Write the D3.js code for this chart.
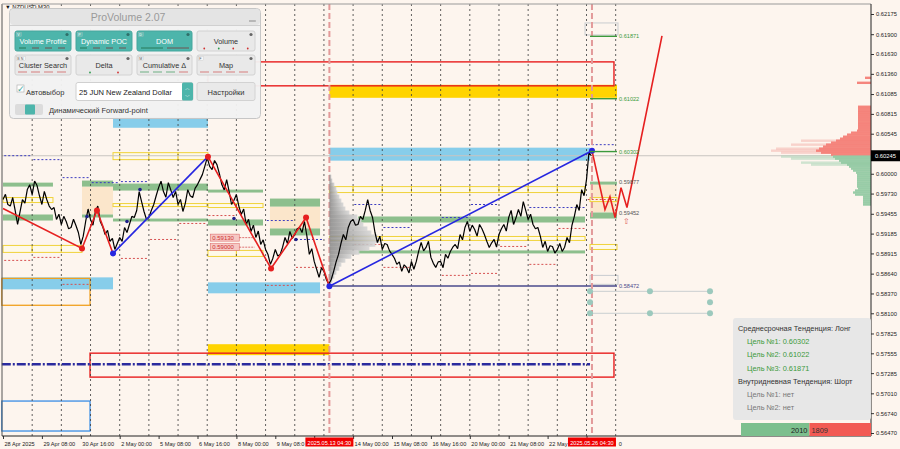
<!DOCTYPE html>
<html><head><meta charset="utf-8">
<script src="https://cdn.jsdelivr.net/npm/d3@7"></script>
<style>
html,body{margin:0;padding:0;background:#fdf5ee;overflow:hidden;}
svg{display:block;font-family:"Liberation Sans",Arial,sans-serif;}
</style></head><body>
<svg id="c" width="900" height="449"></svg>
<script>
// ---------------- DATA ----------------
const symbolLabel = "NZDUSD,M30";
const xLabels = ["28 Apr 2025","29 Apr 08:00","30 Apr 16:00","2 May 00:00","5 May 08:00","6 May 16:00","8 May 00:00","9 May 08:00","12 May 16:00","14 May 00:00","15 May 08:00","16 May 16:00","20 May 00:00","21 May 08:00","22 May 16:00","26 May 00:00"];
const xLabelHours = [0,32,64,96,128,160,192,224,256,288,320,352,384,416,448,480];
const yTicks = [0.62175,0.61900,0.61630,0.61360,0.61085,0.60815,0.60545,0.60000,0.59730,0.59455,0.59185,0.58915,0.58640,0.58370,0.58100,0.57825,0.57555,0.57285,0.57010,0.56740,0.56470];
const currentPrice = 0.60245;
const markerTimes = [[268.5,"2025.05.13 04:30"],[484.5,"2025.05.26 04:30"]];

// close prices every 2 trading hours from 28 Apr 00:00
const closeStepHours = 2;
const closes = [
0.59649,0.59720,0.59581,0.59560,0.59676,0.59500,0.59309,0.59480,0.59649,0.59600,
0.59784,0.59850,0.59716,0.59900,0.59839,0.59700,0.59581,0.59760,0.59649,0.59560,
0.59513,0.59540,0.59377,0.59450,0.59309,0.59420,0.59350,0.59250,0.59268,0.59380,
0.59295,0.59200,0.59037,0.59150,0.59350,0.59520,0.59377,0.59300,0.59486,0.59560,
0.59350,0.59280,0.59173,0.59230,0.59078,0.59120,0.58969,0.59050,0.59132,0.59080,
0.59268,0.59200,0.59309,0.59420,0.59404,0.59500,0.59757,0.59620,0.59486,0.59380,
0.59404,0.59500,0.59581,0.59700,0.59811,0.59900,0.59757,0.59680,0.59879,0.59780,
0.59676,0.59760,0.59581,0.59650,0.59486,0.59600,0.59784,0.59700,0.59676,0.59800,
0.59852,0.59920,0.59988,0.60100,0.60219,0.60100,0.60056,0.60180,0.60124,0.60000,
0.59852,0.59780,0.59920,0.59760,0.59581,0.59640,0.59716,0.59560,0.59445,0.59520,
0.59309,0.59380,0.59214,0.59300,0.59132,0.59220,0.59037,0.59100,0.58969,0.58900,
0.58766,0.58850,0.58969,0.58880,0.58902,0.59000,0.59132,0.59050,0.59214,0.59120,
0.59173,0.59250,0.59268,0.59200,0.59350,0.59150,0.58902,0.58980,0.58806,0.58700,
0.58589,0.58720,0.58671,0.58560,0.58494,0.58560,0.58671,0.58800,0.58902,0.59050,
0.59173,0.59100,0.59268,0.59350,0.59377,0.59300,0.59309,0.59420,0.59377,0.59500,
0.59649,0.59500,0.59404,0.59200,0.59064,0.59150,0.58969,0.59050,0.59037,0.58950,
0.58902,0.58850,0.58766,0.58800,0.58671,0.58760,0.58725,0.58650,0.58806,0.58700,
0.58806,0.58950,0.59064,0.58950,0.58997,0.59080,0.58861,0.58780,0.58725,0.58800,
0.58806,0.58720,0.58902,0.58850,0.58942,0.59000,0.59037,0.58980,0.59173,0.59100,
0.59268,0.59350,0.59214,0.59300,0.59241,0.59150,0.59309,0.59250,0.59173,0.59080,
0.58997,0.59060,0.59105,0.59000,0.59173,0.59250,0.59309,0.59220,0.59404,0.59500,
0.59309,0.59400,0.59513,0.59420,0.59621,0.59500,0.59377,0.59450,0.59309,0.59250,
0.59268,0.59150,0.58997,0.59080,0.58942,0.59020,0.59010,0.58920,0.58969,0.59050,
0.58942,0.59000,0.59132,0.59060,0.59295,0.59420,0.59581,0.59500,0.59784,0.59700,
0.59920,0.60290,0.60245];

const zigRed1 = [[0,0.59526],[65,0.58983],[77.3,0.59499],[90.5,0.58915]];
const zigBlue1 = [[90.5,0.58915],[168.6,0.60233]];
const zigRed2 = [[168.6,0.60233],[220.5,0.58711],[249.3,0.59404],[268.5,0.58467]];
const zigBlue2 = [[268.5,0.58467],[484.5,0.60314]];
const forecast = [[484.5,0.60314],[495.2,0.59513],[499.3,0.59689],[503.5,0.59404],[508.4,0.59811],[513.3,0.59540],[542.1,0.61876]];
const pivotsRed = [[65,0.58983],[77.3,0.59499],[168.6,0.60233],[220.5,0.58711],[249.3,0.59404]];
const pivotsBlue = [[90.5,0.58915],[268.5,0.58467],[484.5,0.60314]];
const fractals = [[69.1,0.59418],[102,0.59350],[112.7,0.59784],[190,0.59390],[241,0.59105]];

// zones: [startHour, endHour, topPrice, bottomPrice]
const greenZones = [[0,41.1,0.59879,0.59825],[0,41.1,0.59445,0.59363],[65,90.5,0.59907,0.59825],[65,90.5,0.59445,0.59404],
[90.5,168.6,0.59866,0.59771],[90.5,168.6,0.59390,0.59350],[168.6,213.9,0.59784,0.59744],[168.6,213.9,0.59377,0.59295],
[219.6,260.8,0.59662,0.59553],[219.6,260.8,0.59255,0.59160],[292,478.8,0.59418,0.59336],[292,478.8,0.58956,0.58915],
[482.9,505.1,0.59893,0.59852],[482.9,505.1,0.59472,0.59390]];
const beigeZones = [[65,90.5,0.59825,0.59445],[219.6,260.8,0.59553,0.59255],[482.9,505.1,0.59852,0.59472]];
const blueZones = [[90.5,168.6,0.60776,0.60626],[268.5,482.9,0.60355,0.60178],[-1,90.5,0.58589,0.58426],[168.6,260.8,0.58521,0.58372]];
const goldZones = [[268.5,505.1,0.61211,0.61034],[168.6,268.5,0.57679,0.57530]];
const redBoxes = [[168.6,502.6,0.61523,0.61197],[71.6,502.6,0.57557,0.57231]];
const orangeBoxes = [[-1,71.6,0.58575,0.58209]];
const blueBoxes = [[-1,71.6,0.56905,0.56497]];
const grayBoxes = [[478.8,505.9,0.62053,0.61890],[482.9,505.9,0.58616,0.58494]];
const yellowBands = [[90.5,168.6,0.60287,0.60192],[0,41.1,0.59676,0.59608],[0,65,0.59024,0.58929],[90.5,168.6,0.59594,0.59553],
[168.6,213.9,0.59594,0.59540],[168.6,213.9,0.58956,0.58874],[268.5,478.8,0.59825,0.59744],[268.5,478.8,0.59146,0.59092],
[482.9,505.1,0.59676,0.59621],[482.9,505.1,0.59037,0.58969]];
// [dayIndex, price]
const redDashDays = [[0,0.58820],[1,0.58861],[2,0.58494],[4,0.58847],[5,0.59105],[6,0.59323],[7,0.59431],[9,0.58480],[10,0.58725],[12,0.59037],[13,0.58725],[15,0.58616],[16,0.58643],[17,0.59010],[18,0.58766],[19,0.59255],[20,0.59649]];
const blueDashDays = [[0,0.60246],[1,0.60192],[2,0.59947],[3,0.59879],[4,0.59893],[9,0.59363],[10,0.59105],[12,0.59581],[13,0.59268],[15,0.59404],[16,0.59581],[18,0.59540],[19,0.59540],[20,0.60396]];
const dashDotLine = [[-1,482.9,0.57407]];
const lowLine = [268.5,505.1,0.58472];
const targets = [0.61871,0.61022,0.60302];
const levelLabels = [[0.59877,"0.59877"],[0.59452,"0.59452"]];
const redPriceTags = [[0.59130,"0.59130"],[0.59000,"0.59000"]];
const dots = [[482.9,0.58399],[482.9,0.58250],[482.9,0.58100],[532.2,0.58399],[581.6,0.58399],[581.6,0.58250],[532.2,0.58100],[581.6,0.58100]];
const dotLines = [[482.9,581.6,0.58399],[482.9,581.6,0.58100]];

// gray session volume profile at 13 May: [price, volume]
const grayProfile = [[0.59961,2],[0.59907,3],[0.59852,5],[0.59798,7],[0.59744,8],[0.59689,10],[0.59635,12],[0.59581,14],[0.59526,16],[0.59472,20],[0.59418,28],[0.59363,32],[0.59309,34],[0.59255,38],[0.59200,42],[0.59146,48],[0.59092,50],[0.59037,46],[0.58983,40],[0.58929,30],[0.58874,22],[0.58820,16],[0.58766,12],[0.58711,10],[0.58657,7],[0.58603,5],[0.58548,3]];
// right profile: [price, volume]
const redProfile = [[0.61306,6],[0.61238,14],[0.60912,13],[0.60885,13],[0.60857,13],[0.60830,13],[0.60803,13],[0.60776,13],[0.60749,13],[0.60722,13],[0.60694,13],[0.60667,13],[0.60640,13],[0.60613,13],[0.60586,14],[0.60559,20],[0.60532,24],[0.60504,28],[0.60477,31],[0.60450,35],[0.60423,40],[0.60396,45],[0.60369,48],[0.60341,52],[0.60314,55],[0.60287,50],[0.60260,40]];
const redProfileFaint = [[0.60450,70],[0.60396,80],[0.60341,95],[0.60314,100],[0.60287,90]];
const greenProfile = [[0.60233,38],[0.60206,36],[0.60178,32],[0.60151,30],[0.60124,24],[0.60097,22],[0.60070,20],[0.60043,18],[0.60015,15],[0.59988,14],[0.59961,14],[0.59934,14],[0.59907,14],[0.59879,14],[0.59852,14],[0.59825,14],[0.59798,13],[0.59771,16],[0.59744,18],[0.59716,16],[0.59689,8],[0.59662,8],[0.59635,8],[0.59608,8],[0.59581,8]];
const greenProfileFaint = [[0.60233,90],[0.60206,80],[0.60151,70],[0.60124,60]];

const buyVolume = 2010, sellVolume = 1809;
const infoLines = [
 ["Среднесрочная Тенденция: Лонг","#333",0],
 ["Цель №1: 0.60302","#3c9a3c",1],
 ["Цель №2: 0.61022","#3c9a3c",1],
 ["Цель №3: 0.61871","#3c9a3c",1],
 ["Внутридневная Тенденция: Шорт","#333",0],
 ["Цель №1: нет","#777",1],
 ["Цель №2: нет","#777",1]];
const panelButtons = [
 ["Volume Profile","V",true],["Dynamic POC","P",true],["DOM","D",true],["Volume","",false],
 ["Cluster Search","B N",false],["Delta","",false],["Cumulative Δ","M",false],["Map","F",false]];

// ---------------- DRAW ----------------
const svg = d3.select("#c");
const W=900,H=449, L=2, R=871, T=4, B=436;
const x = d3.scaleLinear().domain([0,480]).range([3,586.5]);
const y = d3.scaleLinear().domain([0.56470,0.62175]).range([433,14]);

svg.append("rect").attr("width",W).attr("height",H).attr("fill","#fdf5ee");
const g = svg.append("g");

function rects(data, fill, stroke, sw, op){
  g.selectAll(null).data(data).join("rect")
   .attr("x",d=>x(d[0])).attr("width",d=>x(d[1])-x(d[0]))
   .attr("y",d=>y(d[2])).attr("height",d=>Math.max(1,y(d[3])-y(d[2])))
   .attr("fill",fill).attr("fill-opacity",op==null?1:op)
   .attr("stroke",stroke||"none").attr("stroke-width",sw||1);
}

rects(blueZones,"#87cdea");
rects(goldZones,"#ffd400");
rects(beigeZones,"#fbe6cb");
rects(greenZones,"#8dbf8d");
yellowBands.forEach(b=>{
  const cuts=[b[0]].concat(d3.range(Math.ceil(b[0]/24)*24,b[1],24).filter(c=>c>b[0]+2&&c<b[1]-2)).concat([b[1]]);
  const segs=d3.pairs(cuts).map(p=>[p[0],p[1],b[2],b[3]]);
  rects(segs,"#fffbe6","#f0d23a",1,0.6);
});
rects(redBoxes,"none","#e81e1e",1.4);
rects(orangeBoxes,"none","#f0a020",1.3);
rects(blueBoxes,"none","#3a8ee6",1.3);
rects(grayBoxes,"none","#c8ccd0",1);

// grid (daily separators)
g.selectAll(null).data(d3.range(24,505,24)).join("line")
 .attr("x1",d=>x(d)).attr("x2",d=>x(d)).attr("y1",T).attr("y2",B)
 .attr("stroke","#3a3a3a").attr("stroke-dasharray","2,3").attr("stroke-width",0.8);

g.append("line").attr("x1",L).attr("x2",R).attr("y1",y(currentPrice)).attr("y2",y(currentPrice))
 .attr("stroke","#c9c4c0").attr("stroke-width",1);

g.selectAll(null).data(redDashDays).join("line")
 .attr("x1",d=>x(d[0]*24+1)).attr("x2",d=>x(d[0]*24+23)).attr("y1",d=>y(d[1])).attr("y2",d=>y(d[1]))
 .attr("stroke","#d65050").attr("stroke-dasharray","2,2").attr("stroke-width",1);
g.selectAll(null).data(blueDashDays).join("line")
 .attr("x1",d=>x(d[0]*24+1)).attr("x2",d=>x(d[0]*24+23)).attr("y1",d=>y(d[1])).attr("y2",d=>y(d[1]))
 .attr("stroke","#3c3cc0").attr("stroke-dasharray","2,2").attr("stroke-width",1);

g.selectAll(null).data(dashDotLine).join("line")
 .attr("x1",d=>x(d[0])).attr("x2",d=>x(d[1])).attr("y1",d=>y(d[2])).attr("y2",d=>y(d[2]))
 .attr("stroke","#2a2a9e").attr("stroke-width",2.4).attr("stroke-dasharray","9,2,2,2");

g.append("line").attr("x1",x(lowLine[0])).attr("x2",x(lowLine[1])).attr("y1",y(lowLine[2])).attr("y2",y(lowLine[2]))
 .attr("stroke","#4a4a8c").attr("stroke-width",1.4);

g.selectAll(null).data(markerTimes).join("line")
 .attr("x1",d=>x(d[0])).attr("x2",d=>x(d[0])).attr("y1",T).attr("y2",B)
 .attr("stroke","#e39a9a").attr("stroke-width",2).attr("stroke-dasharray","6,3");

// gray session profile
const vpx = d3.scaleLinear().domain([0,50]).range([0,50]);
const gradG = svg.append("defs").append("linearGradient").attr("id","gp");
gradG.append("stop").attr("offset","0%").attr("stop-color","#8c8c8c");
gradG.append("stop").attr("offset","100%").attr("stop-color","#d6d6d6");
const step = Math.abs(y(grayProfile[1][0])-y(grayProfile[0][0]));
g.selectAll(null).data(grayProfile).join("rect")
 .attr("x",x(268.5)).attr("width",d=>vpx(d[1])).attr("y",d=>y(d[0])-step/2).attr("height",step+0.3)
 .attr("fill","url(#gp)").attr("opacity",0.9);

g.selectAll(null).data(dotLines).join("line")
 .attr("x1",d=>x(d[0])).attr("x2",d=>x(d[1])).attr("y1",d=>y(d[2])).attr("y2",d=>y(d[2]))
 .attr("stroke","#c9cfd0").attr("stroke-width",1);
g.selectAll(null).data(dots).join("circle")
 .attr("cx",d=>x(d[0])).attr("cy",d=>y(d[1])).attr("r",3).attr("fill","#9cc9bd");

// price line
const line = d3.line().x(d=>x(d[0])).y(d=>y(d[1]));
g.append("path").attr("d",line(closes.map((c,i)=>[i*closeStepHours,c])))
 .attr("fill","none").attr("stroke","#000").attr("stroke-width",1.2).attr("stroke-linejoin","bevel");

[[zigRed1,"#e62020"],[zigBlue1,"#2626e0"],[zigRed2,"#e62020"],[zigBlue2,"#2626e0"],[forecast,"#e62020"]].forEach(([d,c])=>{
  g.append("path").attr("d",line(d)).attr("fill","none").attr("stroke",c).attr("stroke-width",1.6);
});
g.selectAll(null).data(pivotsRed).join("circle").attr("cx",d=>x(d[0])).attr("cy",d=>y(d[1])).attr("r",3).attr("fill","#e62020");
g.selectAll(null).data(pivotsBlue).join("circle").attr("cx",d=>x(d[0])).attr("cy",d=>y(d[1])).attr("r",3).attr("fill","#2626e0");
g.selectAll(null).data(fractals).join("circle").attr("cx",d=>x(d[0])).attr("cy",d=>y(d[1])).attr("r",1.8).attr("fill","#20208a");

g.selectAll(null).data(targets).join("line")
 .attr("x1",x(482.9)).attr("x2",x(505.1)).attr("y1",d=>y(d)).attr("y2",d=>y(d))
 .attr("stroke","#3c9a3c").attr("stroke-width",1.4);
g.selectAll(null).data(targets).join("text")
 .attr("x",x(505.1)+2).attr("y",d=>y(d)+2).attr("font-size",5.6).attr("fill","#3c9a3c")
 .text(d=>d3.format(".5f")(d));
g.selectAll(null).data(levelLabels).join("text")
 .attr("x",x(505.1)+2).attr("y",d=>y(d[0])+1.5).attr("font-size",5.6).attr("fill","#555").text(d=>d[1]);
g.append("text").attr("x",x(505.1)+2).attr("y",y(lowLine[2])+2).attr("font-size",5.6).attr("fill","#4a4a8c").text(d3.format(".5f")(lowLine[2]));
g.append("text").attr("x",x(512.5)).attr("y",y(0.59452)+10).attr("text-anchor","middle").attr("font-size",8).attr("fill","#e06060").text("⇧");

redPriceTags.forEach(([p,t])=>{
  g.append("rect").attr("x",x(170.5)).attr("y",y(p)-3.5).attr("width",29).attr("height",7)
   .attr("fill","#f6c8c4").attr("stroke","#e07070").attr("stroke-width",0.6);
  g.append("text").attr("x",x(170.5)+2).attr("y",y(p)+2.2).attr("font-size",6).attr("fill","#d03030").text(t);
  g.append("line").attr("x1",x(170.5)+29).attr("x2",x(207)).attr("y1",y(p)).attr("y2",y(p))
   .attr("stroke","#d65050").attr("stroke-width",0.8).attr("stroke-dasharray","2,1");
});

// right profile
const pw = d3.scaleLinear().domain([0,100]).range([0,100]);
function prof(data,color,op){
  g.selectAll(null).data(data).join("rect")
   .attr("x",d=>R-pw(d[1])).attr("width",d=>pw(d[1])).attr("y",d=>y(d[0])-1.2).attr("height",2.4)
   .attr("fill",color).attr("opacity",op);
}
prof(redProfileFaint,"#f4b4ae",0.55);
prof(greenProfileFaint,"#a9d4b6",0.55);
prof(redProfile,"#f47e76",0.95);
prof(greenProfile,"#92c9a2",0.95);

g.append("line").attr("x1",L).attr("x2",L).attr("y1",T).attr("y2",B).attr("stroke","#555").attr("stroke-width",1);
g.append("line").attr("x1",L).attr("x2",R).attr("y1",T).attr("y2",T).attr("stroke","#999").attr("stroke-width",1);

// axes
const ya = svg.append("g").attr("transform",`translate(${R},0)`)
 .call(d3.axisRight(y).tickValues(yTicks).tickSize(3).tickFormat(d3.format(".5f")));
ya.select(".domain").remove();
ya.selectAll("text").attr("font-size",5.8).attr("fill","#222").attr("x",5).attr("font-family","Liberation Sans, Arial");
ya.selectAll("line").attr("stroke","#333");
svg.append("line").attr("x1",R).attr("x2",R).attr("y1",T).attr("y2",B).attr("stroke","#222");

// time axis; labels partly hidden behind the red marker boxes are trimmed to their visible part
const boxes = markerTimes.map(([h])=>[x(h)-24,x(h)+24]);
const xa = svg.append("g").attr("transform",`translate(0,${B})`)
 .call(d3.axisBottom(x).tickValues(xLabelHours).tickSize(3).tickFormat((d,i)=>xLabels[i]));
xa.select(".domain").remove();
xa.selectAll("line").attr("stroke","#333");
xa.selectAll("text").attr("font-size",5.6).attr("fill","#222").attr("text-anchor","start").attr("dx",1).attr("y",6)
 .attr("font-family","Liberation Sans, Arial")
 .each(function(d){
   const t=d3.select(this), full=t.text(), x0=x(d)+1;
   const wFull=this.getComputedTextLength();
   for(const [b0,b1] of boxes){
     if(x0<b1 && x0+wFull>b0){
       if(x0<b0){
         let s=full; while(s.length && x0+this.getSubStringLength(0,s.length)>b0-1){ s=s.slice(0,-1); }
         s=s.replace(/\s+$/,""); t.text(s);
       } else {
         let k=0; while(k<full.length && x0+this.getSubStringLength(0,k)<b1+1){k++;}
         const tail=full.slice(k).replace(/^\s+/,"");
         if(tail){ const wt=this.getSubStringLength(full.length-tail.length,tail.length);
           t.text(tail).attr("dx",1+wFull-wt); } else t.remove();
       }
       break;
     }
   }
 });
svg.append("line").attr("x1",L).attr("x2",R).attr("y1",B).attr("y2",B).attr("stroke","#222");

markerTimes.forEach(([h,t])=>{
  svg.append("rect").attr("x",x(h)-24).attr("y",B+1.5).attr("width",48).attr("height",9).attr("fill","#f00000");
  svg.append("text").attr("x",x(h)).attr("y",B+8.5).attr("text-anchor","middle").attr("font-size",5.6).attr("fill","#fff").text(t);
});
svg.append("rect").attr("x",R).attr("y",y(currentPrice)-5.5).attr("width",29).attr("height",11).attr("fill","#000");
svg.append("text").attr("x",R+4).attr("y",y(currentPrice)+2).attr("font-size",5.8).attr("fill","#fff").text(d3.format(".5f")(currentPrice));

svg.append("text").attr("x",5).attr("y",9).attr("font-size",5.8).attr("fill","#111").text("▼ "+symbolLabel);

// ---------------- PANEL ----------------
const P = svg.append("g");
P.append("rect").attr("x",9.5).attr("y",8.5).attr("width",251).attr("height",110).attr("rx",4)
 .attr("fill","#f1f1f1").attr("fill-opacity",0.96).attr("stroke","#c6c6c6");
P.append("rect").attr("x",10).attr("y",9).attr("width",250).attr("height",16).attr("rx",4).attr("fill","#e4e4e4");
P.append("line").attr("x1",10).attr("x2",260).attr("y1",25.5).attr("y2",25.5).attr("stroke","#d0d0d0");
P.append("text").attr("x",128).attr("y",21).attr("text-anchor","middle").attr("font-size",10.5).attr("fill","#9a9a9a").text("ProVolume 2.07");
P.append("line").attr("x1",249).attr("x2",256).attr("y1",21).attr("y2",21).attr("stroke","#999").attr("stroke-width",1.2);
const bx=[15,76,137,197], bw=[56,56,55,58];
panelButtons.forEach((b,i)=>{
  const col=i%4,row=Math.floor(i/4);
  const X=bx[col],Y=row?55:31,w=bw[col],h=20;
  P.append("rect").attr("x",X).attr("y",Y).attr("width",w).attr("height",h).attr("rx",2)
   .attr("fill",b[2]?"#4db5ab":"#e9e9e9").attr("stroke",b[2]?"#46a69d":"#d2d2d2");
  P.append("text").attr("x",X+w/2).attr("y",Y+12.5).attr("text-anchor","middle").attr("font-size",7.3)
   .attr("fill",b[2]?"#fff":"#333").text(b[0]);
  if(b[1]){P.append("rect").attr("x",X+1.5).attr("y",Y+1.5).attr("width",b[1].length>1?9:5).attr("height",4).attr("fill",b[2]?"#63c1b8":"#f6f6f6").attr("stroke","#bbb").attr("stroke-width",0.3);
    P.append("text").attr("x",X+2.3).attr("y",Y+5.1).attr("font-size",3.6).attr("fill",b[2]?"#fff":"#555").text(b[1]);}
  P.append("circle").attr("cx",X+w-4).attr("cy",Y+3.5).attr("r",1.6).attr("fill",b[2]?"#2f6f69":"#666");
  if(b[2]){
    P.selectAll(null).data(col===2?[0,1]:[0,1,2,3]).join("line")
     .attr("x1",(d,k)=>X+4+k*(col===2?26:13)).attr("x2",(d,k)=>X+(col===2?26:11)+k*(col===2?26:13))
     .attr("y1",Y+h-3).attr("y2",Y+h-3).attr("stroke",(d,k)=>k===0?"#1e6b44":"#7a3a3a").attr("stroke-width",0.8);
  } else if(b[0]==="Volume"||b[0]==="Delta"){
    const n=b[0]==="Volume"?4:2;
    P.selectAll(null).data(d3.range(n)).join("circle").attr("cx",k=>X+w/(n*2)+k*w/n).attr("cy",Y+h-2.5).attr("r",0.9)
     .attr("fill",k=>k===(n===4?1:0)?"#2b9a4b":"#d03030");
  } else {
    P.selectAll(null).data([0,1,2,3]).join("line")
     .attr("x1",k=>X+3+k*13).attr("x2",k=>X+12+k*13).attr("y1",Y+h-3).attr("y2",Y+h-3)
     .attr("stroke",k=>(b[0]==="Cumulative Δ"&&k<3)?"#3a9a5a":"#d05050").attr("stroke-width",0.7);
  }
});
P.append("rect").attr("x",17).attr("y",85).attr("width",7).attr("height",7).attr("fill","#fff").attr("stroke","#aaa").attr("stroke-width",0.6);
P.append("text").attr("x",16.5).attr("y",92).attr("font-size",9).attr("fill","#3aa79c").text("✓");
P.append("text").attr("x",26).attr("y",94.5).attr("font-size",7.5).attr("fill","#333").text("Автовыбор");
P.append("rect").attr("x",76).attr("y",82.5).attr("width",117).attr("height",18).attr("rx",2).attr("fill","#fff").attr("stroke","#d0d0d0");
P.append("text").attr("x",79).attr("y",94.5).attr("font-size",7.5).attr("fill","#222").text("25 JUN New Zealand Dollar");
P.append("rect").attr("x",182).attr("y",82.5).attr("width",11).attr("height",18).attr("rx",1.5).attr("fill","#4db5ab");
P.append("text").attr("x",187.5).attr("y",90).attr("text-anchor","middle").attr("font-size",5).attr("fill","#fff").text("︿");
P.append("text").attr("x",187.5).attr("y",98).attr("text-anchor","middle").attr("font-size",5).attr("fill","#fff").text("﹀");
P.append("rect").attr("x",197).attr("y",82.5).attr("width",58).attr("height",18).attr("rx",2).attr("fill","#e9e9e9").attr("stroke","#d2d2d2");
P.append("text").attr("x",226).attr("y",94.5).attr("text-anchor","middle").attr("font-size",7.5).attr("fill","#333").text("Настройки");
P.append("rect").attr("x",15).attr("y",104).attr("width",28).attr("height",11).attr("rx",2).attr("fill","#dcdcdc");
P.append("rect").attr("x",25).attr("y",104.5).attr("width",10).attr("height",10).attr("rx",1).attr("fill","#4db5ab");
P.append("text").attr("x",49).attr("y",112.5).attr("font-size",7.5).attr("fill","#333").text("Динамический Forward-point");

// ---------------- INFO BOX ----------------
const I = svg.append("g");
I.append("rect").attr("x",733).attr("y",318).attr("width",138).attr("height",102).attr("rx",3)
 .attr("fill","#e6e6e6").attr("fill-opacity",0.95);
I.selectAll(null).data(infoLines).join("text")
 .attr("x",d=>d[2]?747:738).attr("y",(d,i)=>331+i*13.2).attr("font-size",7.4).attr("fill",d=>d[1]).text(d=>d[0]);
const vs = d3.scaleLinear().domain([0,buyVolume+sellVolume]).range([741,R]);
I.append("rect").attr("x",vs(0)).attr("y",423).attr("width",vs(buyVolume)-vs(0)).attr("height",13).attr("fill","#7cbf8e");
I.append("rect").attr("x",vs(buyVolume)).attr("y",423).attr("width",R-vs(buyVolume)).attr("height",13).attr("fill","#f25a54");
I.append("text").attr("x",vs(buyVolume)-2).attr("y",432.5).attr("text-anchor","end").attr("font-size",7.4).attr("fill","#222").text(buyVolume);
I.append("text").attr("x",vs(buyVolume)+2).attr("y",432.5).attr("font-size",7.4).attr("fill","#333").text(sellVolume);
</script></body></html>
